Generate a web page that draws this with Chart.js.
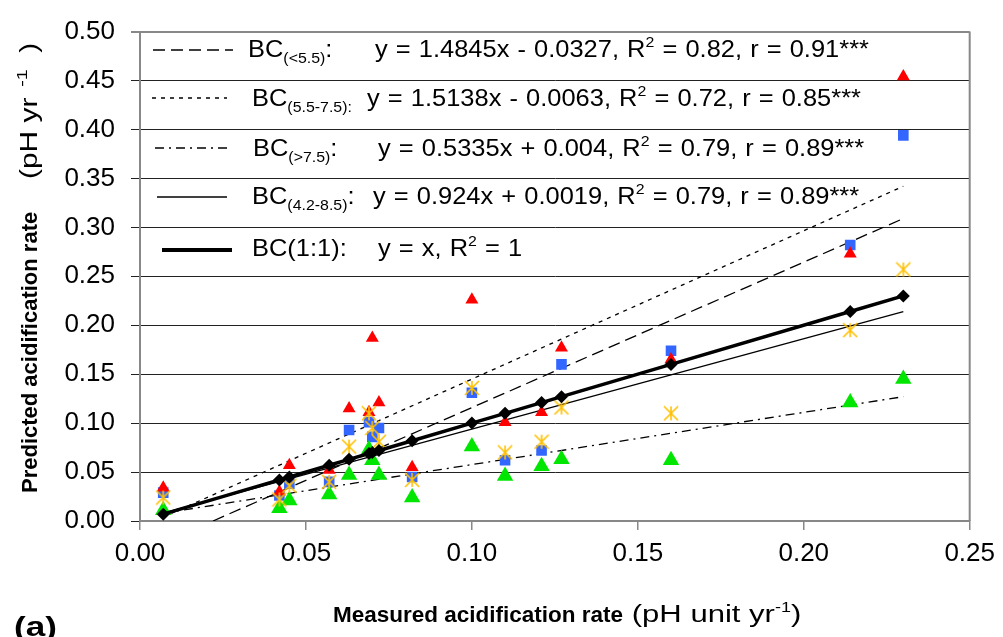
<!DOCTYPE html>
<html>
<head>
<meta charset="utf-8">
<script src="https://cdn.jsdelivr.net/npm/chart.js@4.4.1/dist/chart.umd.min.js"></script>
<style>
  html, body { margin: 0; padding: 0; background: #fff; }
  canvas { display: block; }
</style>
</head>
<body>
<canvas id="chart" width="1003" height="637"></canvas>
<script>
// measured rate (x) and predicted rates per BC group (y)
const measured  = [0.007, 0.042, 0.045, 0.057, 0.063, 0.069, 0.070, 0.072, 0.082, 0.100, 0.110, 0.121, 0.127, 0.160, 0.214, 0.230];
const predLow   = [0.034, 0.030, 0.057, 0.052, 0.115, 0.111, 0.187, 0.121, 0.055, 0.226, 0.101, 0.111, 0.177, 0.165, 0.273, 0.454];
const predMid   = [0.029, 0.026, 0.038, 0.040, 0.093, 0.101, 0.086, 0.095, 0.045, 0.131, 0.062, 0.072, 0.160, 0.174, 0.282, 0.394];
const predHigh  = [0.011, 0.013, 0.021, 0.027, 0.047, 0.073, 0.062, 0.047, 0.024, 0.076, 0.046, 0.056, 0.063, 0.062, 0.121, 0.145];
const predAll   = [0.024, 0.022, 0.036, 0.040, 0.076, 0.110, 0.095, 0.081, 0.042, 0.136, 0.070, 0.081, 0.116, 0.110, 0.195, 0.257];
const oneToOne  = [0.007, 0.042, 0.045, 0.057, 0.063, 0.069, 0.070, 0.072, 0.082, 0.100, 0.110, 0.121, 0.127, 0.160, 0.214, 0.230];

// trend line end points [x, y]
const trendLow  = [[0.022, 0.000], [0.230, 0.309]];
const trendMid  = [[0.007, 0.004], [0.230, 0.342]];
const trendHigh = [[0.007, 0.008], [0.230, 0.127]];
const trendAll  = [[0.007, 0.008], [0.230, 0.214]];

const xTicks = [0, 0.05, 0.10, 0.15, 0.20, 0.25];
const yTicks = [0, 0.05, 0.10, 0.15, 0.20, 0.25, 0.30, 0.35, 0.40, 0.45, 0.50];

const FONT = "'Liberation Sans', Arial, sans-serif";
Chart.defaults.font.family = FONT;
Chart.defaults.color = "#000";

const DASH_LOW = [12, 6];
const DASH_MID = [4, 5];
const DASH_HIGH = [9, 5, 2, 5];

function toPoints(ys) {
  return measured.map((x, i) => ({ x: x, y: ys[i] }));
}

function pairPoints(arr) {
  return arr.map((p) => ({ x: p[0], y: p[1] }));
}

function makeAsterisk(size, color) {
  const c = document.createElement("canvas");
  c.width = c.height = size;
  const g = c.getContext("2d");
  const m = size / 2, r = size / 2 - 1;
  g.strokeStyle = color;
  g.lineWidth = 1.6;
  g.beginPath();
  g.moveTo(m, m - r); g.lineTo(m, m + r);
  g.moveTo(m - r, m - r); g.lineTo(m + r, m + r);
  g.moveTo(m + r, m - r); g.lineTo(m - r, m + r);
  g.stroke();
  return c;
}

function trend(data, dash, width) {
  return {
    type: "line",
    data: pairPoints(data),
    borderColor: "#000",
    borderWidth: width,
    borderDash: dash,
    pointRadius: 0,
    fill: false,
    order: 10,
  };
}

function scatter(data, style, radius, color, order) {
  return {
    data: toPoints(data),
    pointStyle: style,
    pointRadius: radius,
    pointBackgroundColor: color,
    pointBorderColor: color,
    pointBorderWidth: 0,
    showLine: false,
    order: order,
  };
}

// draws text runs one after the other; sx stretches a run horizontally
function drawRuns(ctx, x, y, runs, baseSize, baseSx) {
  for (let r of runs) {
    const sx = r.sx || baseSx || 1;
    ctx.font = (r.bold ? "bold " : "") + (r.size || baseSize || 23) + "px " + FONT;
    ctx.save();
    ctx.translate(x, y + (r.dy || 0));
    ctx.scale(sx, 1);
    ctx.fillText(r.t, 0, 0);
    ctx.restore();
    x += ctx.measureText(r.t).width * sx;
  }
  return x;
}

const sub = (t) => ({ t: t, size: 15, dy: 6 });
const sup = (t) => ({ t: t, size: 15, dy: -10 });
const txt = (t) => ({ t: t });

const legendRows = [
  { ly: 50, x1: 153, x2: 233, dash: DASH_LOW, w: 1.3, lx: 248, by: 57,
    label: [txt("BC"), sub("(<5.5)"), txt(":")], ex: 375,
    eq: [txt("y = 1.4845x - 0.0327, R"), sup("2"), txt(" = 0.82, r = 0.91***")] },
  { ly: 98, x1: 152, x2: 227, dash: DASH_MID, w: 1.3, lx: 252, by: 106,
    label: [txt("BC"), sub("(5.5-7.5):")], ex: 367,
    eq: [txt("y = 1.5138x - 0.0063, R"), sup("2"), txt(" = 0.72, r = 0.85***")] },
  { ly: 148, x1: 155, x2: 227, dash: DASH_HIGH, w: 1.3, lx: 253, by: 156,
    label: [txt("BC"), sub("(>7.5)"), txt(":")], ex: 378,
    eq: [txt("y = 0.5335x + 0.004, R"), sup("2"), txt(" = 0.79, r = 0.89***")] },
  { ly: 197, x1: 157, x2: 227, dash: [], w: 1.3, lx: 252, by: 204,
    label: [txt("BC"), sub("(4.2-8.5)"), txt(":")], ex: 373,
    eq: [txt("y = 0.924x + 0.0019, R"), sup("2"), txt(" = 0.79, r = 0.89***")] },
  { ly: 250, x1: 162, x2: 232, dash: [], w: 4, lx: 252, by: 256,
    label: [txt("BC(1:1):")], ex: 378,
    eq: [txt("y = x, R"), sup("2"), txt(" = 1")] },
];

const decor = {
  id: "decor",
  beforeDatasetsDraw(chart) {
    const ctx = chart.ctx;
    ctx.save();
    ctx.fillStyle = "#000";
    ctx.strokeStyle = "#000";
    ctx.textBaseline = "alphabetic";
    if ("wordSpacing" in ctx) ctx.wordSpacing = "1px";
    for (let row of legendRows) {
      ctx.lineWidth = row.w;
      ctx.setLineDash(row.dash);
      ctx.beginPath();
      ctx.moveTo(row.x1, row.ly);
      ctx.lineTo(row.x2, row.ly);
      ctx.stroke();
      drawRuns(ctx, row.lx, row.by, row.label, 24, 1.06);
      drawRuns(ctx, row.ex, row.by, row.eq, 24, 1.06);
    }
    ctx.restore();
  },
  afterDraw(chart) {
    const ctx = chart.ctx;
    const a = chart.chartArea;
    ctx.save();
    // right border
    ctx.strokeStyle = "#888";
    ctx.lineWidth = 2;
    ctx.beginPath();
    ctx.moveTo(a.right, a.top);
    ctx.lineTo(a.right, a.bottom);
    ctx.stroke();

    ctx.fillStyle = "#000";
    ctx.textBaseline = "alphabetic";
    // x title
    drawRuns(ctx, 333, 622, [
      { t: "Measured acidification rate", bold: true, size: 22.5 },
      { t: " (pH unit yr", sx: 1.35 }, { t: "-1", size: 15, dy: -10, sx: 1.2 }, { t: ")", sx: 1.35 },
    ]);
    // y title
    ctx.save();
    ctx.translate(37, 493);
    ctx.rotate(-Math.PI / 2);
    drawRuns(ctx, 0, 0, [{ t: "Predicted acidification rate", bold: true, size: 22 }]);
    drawRuns(ctx, 314, 0, [
      { t: "(pH yr", sx: 1.3 }, { t: "  -1", size: 15, dy: -10, sx: 1.3 }, { t: "  )", sx: 1.3 },
    ]);
    ctx.restore();
    // panel label
    drawRuns(ctx, 14, 636, [{ t: "(a)", bold: true, size: 27, sx: 1.3 }]);
    ctx.restore();
  },
};

function main() {
  const datasets = [
    trend(trendLow, DASH_LOW, 1.3),
    trend(trendMid, DASH_MID, 1.3),
    trend(trendHigh, DASH_HIGH, 1.3),
    trend(trendAll, [], 1.3),
    scatter(predMid, "rect", 7.5, "#3366FF", 6),
    scatter(predLow, "triangle", 7.5, "#FF0000", 5),
    scatter(predHigh, "triangle", 9.5, "#00E600", 4),
    scatter(predAll, makeAsterisk(16, "#FFC000"), 8, "#FFC000", 3),
    {
      data: oneToOne.map((v) => ({ x: v, y: v })),
      showLine: true,
      borderColor: "#000",
      borderWidth: 3.5,
      pointStyle: "rectRot",
      pointRadius: 6.5,
      pointBackgroundColor: "#000",
      pointBorderColor: "#000",
      pointBorderWidth: 0,
      order: 1,
    },
  ];

  new Chart(document.getElementById("chart"), {
    type: "scatter",
    data: { datasets },
    options: {
      responsive: false,
      animation: false,
      events: [],
      layout: { padding: { left: 0, right: 31, top: 23, bottom: 0 } },
      plugins: { legend: { display: false }, tooltip: { enabled: false } },
      scales: {
        x: {
          type: "linear",
          min: 0,
          max: 0.25,
          afterFit: (s) => { s.height = 116; },
          afterBuildTicks: (s) => { s.ticks = xTicks.map((v) => ({ value: v })); },
          ticks: { autoSkip: false, maxRotation: 0, padding: 8, font: { size: 26 }, callback: (v) => v.toFixed(2) },
          grid: { drawOnChartArea: false, drawTicks: true, tickLength: 9, color: "#888", lineWidth: 1.5 },
          border: { color: "#888", width: 2 },
        },
        y: {
          min: 0,
          max: 0.5,
          afterFit: (s) => { s.width = 140; },
          afterBuildTicks: (s) => { s.ticks = yTicks.map((v) => ({ value: v })); },
          ticks: { autoSkip: false, padding: 16, font: { size: 26 }, callback: (v) => v.toFixed(2) },
          grid: {
            color: (c) => (c.tick && c.tick.value >= 0.499 ? "#888" : "#222"),
            lineWidth: (c) => (c.tick && c.tick.value >= 0.499 ? 2 : 1),
            tickLength: 9,
          },
          border: { color: "#888", width: 2 },
        },
      },
    },
    plugins: [decor],
  });
}

document.addEventListener("DOMContentLoaded", () => main());
</script>
</body>
</html>
